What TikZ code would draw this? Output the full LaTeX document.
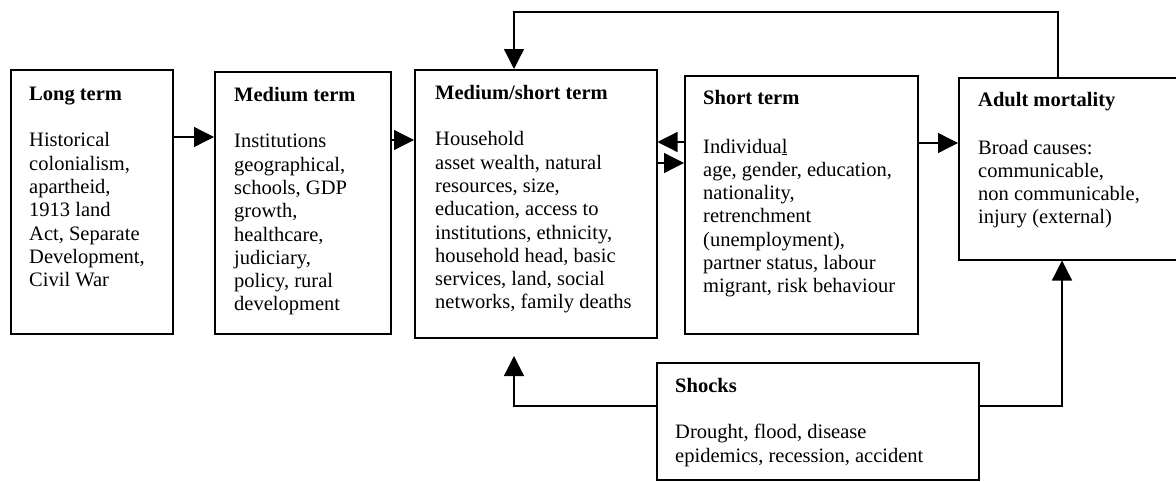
\documentclass[tikz,border=0pt]{standalone}
\usepackage{fontspec}
\setmainfont{Liberation Serif}
\usetikzlibrary{arrows.meta}
\begin{document}
\begin{tikzpicture}[x=1pt,y=-1pt,
  box/.style={draw, line width=1.5pt, anchor=north west, inner sep=0pt},
  txt/.style={anchor=north west, inner sep=0pt, align=left, font=\fontsize{20.5}{23.3}\selectfont},
  arr/.style={line width=1.3pt, -{Triangle[length=20pt,width=20pt]}}]
\clip (0,0) rectangle (1176,482);
\fill[white] (0,0) rectangle (1176,482);
% boxes
\node[box, minimum width=162pt, minimum height=264pt] (long) at (10,69) {};
\node[box, minimum width=176pt, minimum height=262pt] (med) at (214,71) {};
\node[box, minimum width=242pt, minimum height=268pt] (ms) at (414,69) {};
\node[box, minimum width=233pt, minimum height=258pt] (short) at (684,75) {};
\node[box, minimum width=222pt, minimum height=182pt] (adult) at (958,77) {};
\node[box, minimum width=322pt, minimum height=117pt] (shocks) at (656,362) {};
% texts
\node[txt] (longt) at (29,83.7) {\textbf{Long term}\strut\\[23.3pt]Historical\\colonialism,\\apartheid,\\1913 land\\Act, Separate\\Development,\\Civil War};
\node[txt] (medt) at (234,84.7) {\textbf{Medium term}\strut\\[23.3pt]Institutions\\geographical,\\schools, GDP\\growth,\\healthcare,\\judiciary,\\policy, rural\\development};
\node[txt] (mst) at (435,82.7) {\textbf{Medium/short term}\strut\\[23.3pt]Household\\asset wealth, natural\\resources, size,\\education, access to\\institutions, ethnicity,\\household head, basic\\services, land, social\\networks, family deaths};
\node[txt] (shortt) at (703,87.7) {\textbf{Short term}\strut\\[25.5pt]Individua\underline{l}\\age, gender, education,\\nationality,\\retrenchment\\(unemployment),\\partner status, labour\\migrant, risk behaviour};
\node[txt] (adultt) at (978,89.7) {\textbf{Adult mortality}\strut\\[24.5pt]Broad causes:\\communicable,\\non communicable,\\injury (external)};
\node[txt] (shockst) at (675,375.7) {\textbf{Shocks}\strut\\[23.3pt]Drought, flood, disease\\epidemics, recession, accident};
% connectors
\draw[arr] ([yshift=-68pt]long.north east) -- ([yshift=-68pt]long.north east -| med.west);
\draw[arr] ([yshift=-69pt]med.north east) -- ([yshift=-69pt]med.north east -| ms.west);
\draw[arr] ([yshift=-94pt]ms.north east) -- ([yshift=-94pt]ms.north east -| short.west);
\draw[arr] ([yshift=-67pt]short.north west) -- ([yshift=-67pt]short.north west -| ms.east);
\draw[arr] ([yshift=-68pt]short.north east) -- ([yshift=-68pt]short.north east -| adult.west);
\coordinate (fbtop) at (514,12);
\draw[arr] ([xshift=100pt]adult.north west) |- (fbtop) -- (fbtop |- ms.north);
\coordinate (shockup) at (514,356);
\draw[arr] ([yshift=-44pt]shocks.north west) -| (shockup);
\draw[arr] ([yshift=-44pt]shocks.north east) -| ([xshift=104pt]adult.south west);
\end{tikzpicture}
\end{document}
